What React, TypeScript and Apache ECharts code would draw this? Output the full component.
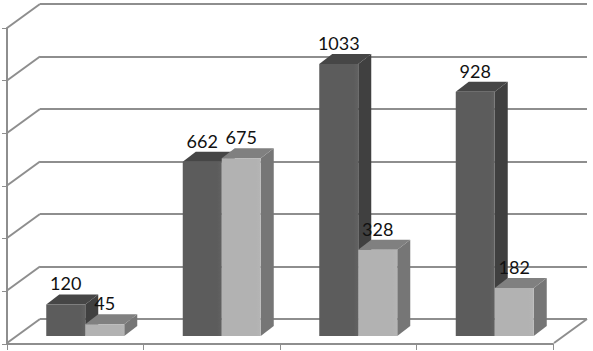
import React, { useEffect, useRef } from "react";
import * as echarts from "echarts";

const categories = ["1", "2", "3", "4"];
const seriesA = [120, 662, 1033, 928];
const seriesB = [45, 675, 328, 182];
const yTicks = [0, 200, 400, 600, 800, 1000, 1200];

const LINE = "#8e8e8e";
const DX = 13;
const DY = 10;
const BAR_RATIO = 39 / 136.5;

function barRenderer(offsetBars: number, front: string, side: string, top: string) {
  return (_p: any, api: any) => {
    const cat = api.value(0);
    const val = api.value(1);
    const [cx, yTop] = api.coord([cat, val]);
    const [, yBase] = api.coord([cat, 0]);
    const w = api.size([1, 0])[0] * BAR_RATIO;
    const x0 = cx + offsetBars * w;
    const x1 = x0 + w;
    return {
      type: "group",
      children: [
        {
          type: "polygon",
          shape: { points: [[x1, yTop], [x1 + DX, yTop - DY], [x1 + DX, yBase - DY], [x1, yBase]] },
          style: { fill: side },
        },
        {
          type: "polygon",
          shape: { points: [[x0, yTop], [x0 + DX, yTop - DY], [x1 + DX, yTop - DY], [x1, yTop]] },
          style: { fill: top },
        },
        {
          type: "rect",
          shape: { x: x0, y: yTop, width: w, height: yBase - yTop },
          style: {
            fill: new echarts.graphic.LinearGradient(0, 0, 1, 0, [
              { offset: 0, color: front },
              { offset: 0.88, color: front },
              { offset: 1, color: front === "#5c5c5c" ? "#626262" : "#b5b5b5" },
            ]),
          },
        },
      ],
    };
  };
}

function labelRenderer(offsetBars: number) {
  return (_p: any, api: any) => {
    const cat = api.value(0);
    const val = api.value(1);
    const [cx, yTop] = api.coord([cat, val]);
    const w = api.size([1, 0])[0] * BAR_RATIO;
    return {
      type: "text",
      x: cx + offsetBars * w + w / 2,
      y: yTop - 21,
      style: {
        text: String(val),
        fill: "#111111",
        font: '18px Lato, "Open Sans", sans-serif',
        align: "center",
        verticalAlign: "middle",
      },
    };
  };
}

const toData = (vals: number[]) => vals.map((v, i) => [i, v]);

export default function App() {
  const ref = useRef<HTMLDivElement>(null);
  useEffect(() => {
    document.body.style.margin = "0";
    const chart = echarts.init(ref.current!, undefined, { renderer: "svg" });
    const hiddenX = { type: "category", data: categories, show: false };
    const hiddenY = { type: "value", min: 0, max: 1200, interval: 200, show: false };
    chart.setOption({
      animation: false,
      backgroundColor: "#ffffff",
      grid: [
        { left: 40, top: 4, width: 547, height: 315 },
        { left: 7, top: 28, width: 546, height: 316 },
        { left: 17, top: 20, width: 546, height: 316 },
      ],
      xAxis: [
        { ...hiddenX, gridIndex: 0 },
        {
          type: "category",
          data: categories,
          gridIndex: 1,
          axisLine: { show: true, lineStyle: { color: LINE, width: 2 } },
          axisTick: { show: true, length: 6, lineStyle: { color: LINE, width: 1 } },
          axisLabel: { show: false },
        },
        { ...hiddenX, gridIndex: 2 },
      ],
      yAxis: [
        {
          type: "value",
          min: 0,
          max: 1200,
          interval: 200,
          gridIndex: 0,
          axisLine: { show: false },
          axisTick: { show: false },
          axisLabel: { show: false },
          splitLine: { show: true, lineStyle: { color: LINE, width: 2 } },
        },
        {
          type: "value",
          min: 0,
          max: 1200,
          interval: 200,
          gridIndex: 1,
          axisLine: { show: true, lineStyle: { color: LINE, width: 2 } },
          axisTick: { show: true, length: 5, lineStyle: { color: LINE, width: 1 } },
          axisLabel: { show: false },
          splitLine: { show: false },
        },
        { ...hiddenY, gridIndex: 2 },
      ],
      series: [
        {
          type: "custom",
          xAxisIndex: 0,
          yAxisIndex: 0,
          data: yTicks.map((v) => [0, v]),
          silent: true,
          renderItem: (_p: any, api: any) => {
            const size = api.size([1, 0])[0];
            const [cx, y] = api.coord([0, api.value(1)]);
            const x = cx - size / 2;
            return {
              type: "line",
              shape: { x1: x, y1: y, x2: x - 33, y2: y + 24 },
              style: { stroke: LINE, lineWidth: 2, fill: "none" },
            };
          },
        },
        {
          type: "custom",
          xAxisIndex: 0,
          yAxisIndex: 0,
          data: [[3, 0]],
          silent: true,
          renderItem: (_p: any, api: any) => {
            const size = api.size([1, 0])[0];
            const [cx, y] = api.coord([api.value(0), api.value(1)]);
            const x = cx + size / 2;
            return {
              type: "line",
              shape: { x1: x, y1: y, x2: x - 33, y2: y + 24 },
              style: { stroke: LINE, lineWidth: 2, fill: "none" },
            };
          },
        },
        {
          type: "custom",
          name: "A",
          xAxisIndex: 2,
          yAxisIndex: 2,
          z: 3,
          data: toData(seriesA),
          renderItem: barRenderer(-1, "#5c5c5c", "#404040", "#464646"),
        },
        {
          type: "custom",
          name: "B",
          xAxisIndex: 2,
          yAxisIndex: 2,
          z: 4,
          data: toData(seriesB),
          renderItem: barRenderer(0, "#b2b2b2", "#767676", "#808080"),
        },
        {
          type: "custom",
          xAxisIndex: 2,
          yAxisIndex: 2,
          z: 5,
          data: toData(seriesA),
          renderItem: labelRenderer(-1),
        },
        {
          type: "custom",
          xAxisIndex: 2,
          yAxisIndex: 2,
          z: 5,
          data: toData(seriesB),
          renderItem: labelRenderer(0),
        },
      ],
    });
    return () => chart.dispose();
  }, []);
  return <div ref={ref} style={{ width: 593, height: 351 }} />;
}
